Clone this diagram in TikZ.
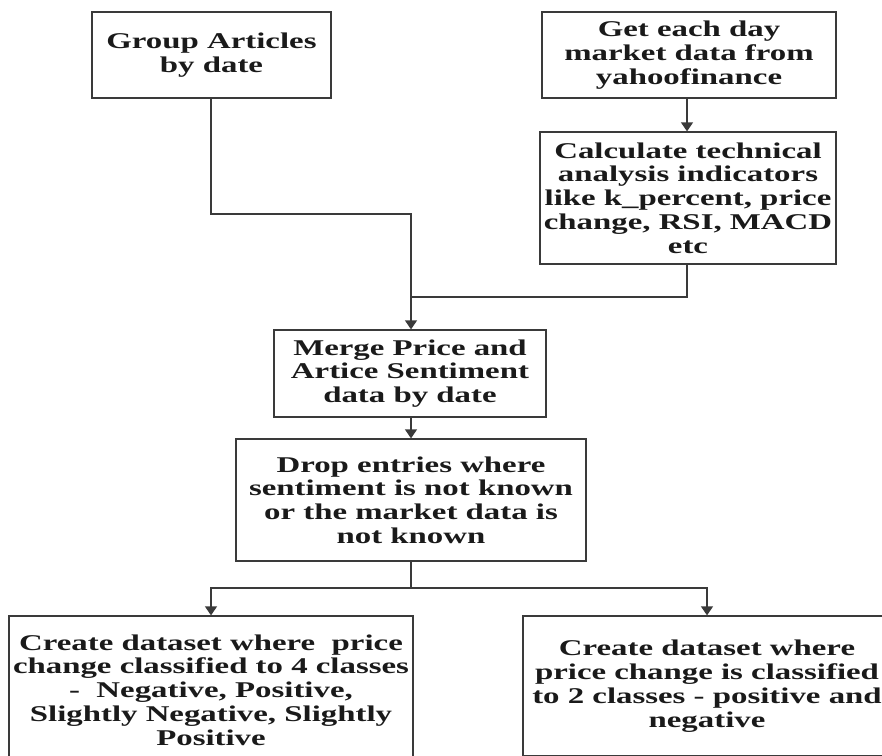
\documentclass[tikz,border=0pt]{standalone}
\usepackage{fontspec}
\newfontfamily\boxfont{Liberation Serif}[FakeStretch=1.46]
\usetikzlibrary{arrows.meta}
\definecolor{linecol}{HTML}{3A3A3A}
\definecolor{textcol}{HTML}{1A1A1A}
\tikzset{
  stepbox/.style={draw=linecol, line width=1.3pt, align=center, inner sep=0pt,
    text=textcol, font=\boxfont\bfseries\fontsize{22.5}{23.8}\selectfont},
  conn/.style={draw=linecol, line width=1.3pt},
  arr/.style={conn, -{Triangle[width=12pt,length=9pt]}}
}
\begin{document}
\begin{tikzpicture}[x=1pt,y=-1pt]
\useasboundingbox (0,0) rectangle (882,755);
\node[stepbox, minimum width=239pt, minimum height=86pt] (g) at (211.5,55) {Group Articles\\by date};
\node[stepbox, minimum width=294pt, minimum height=86pt] (y) at (689,55) {Get each day\\market data from\\yahoofinance};
\node[stepbox, minimum width=296pt, minimum height=132pt] (c) at (688,198) {Calculate technical\\analysis indicators\\like k\_percent, price\\change, RSI, MACD\\etc};
\node[stepbox, minimum width=272pt, minimum height=87pt] (m) at (410,373.5) {Merge Price and\\Artice Sentiment\\data by date};
\node[stepbox, minimum width=350pt, minimum height=122pt] (d) at (411,500) {Drop entries where\\sentiment is not known\\or the market data is\\not known};
\node[stepbox, minimum width=404pt, minimum height=148pt] (l) at (211,690) {Create dataset where\ \ price\\change classified to 4 classes\\-\ \ Negative, Positive,\\Slightly Negative, Slightly\\Positive};
\node[stepbox, minimum width=368pt, minimum height=140pt] (r) at (707,686) {Create dataset where\\price change is classified\\to 2 classes - positive and\\negative};
\coordinate (gb) at (211,214);
\coordinate (mj) at (411,214);
\coordinate (cb) at (687,297);
\coordinate (cj) at (411,297);
\coordinate (dj) at (411,588);
\coordinate (lj) at (211,588);
\coordinate (rj) at (707,588);
\draw[conn] (g.south -| gb) -- (gb) -- (mj) -- (cj);
\draw[arr] (cj) -- (m.north -| cj);
\draw[arr] (y.south -| cb) -- (c.north -| cb);
\draw[conn] (c.south -| cb) -- (cb) -- (cj);
\draw[arr] (m.south -| dj) -- (d.north -| dj);
\draw[conn] (d.south -| dj) -- (dj);
\draw[arr] (dj) -- (lj) -- (l.north);
\draw[arr] (dj) -- (rj) -- (r.north);
\end{tikzpicture}
\end{document}
